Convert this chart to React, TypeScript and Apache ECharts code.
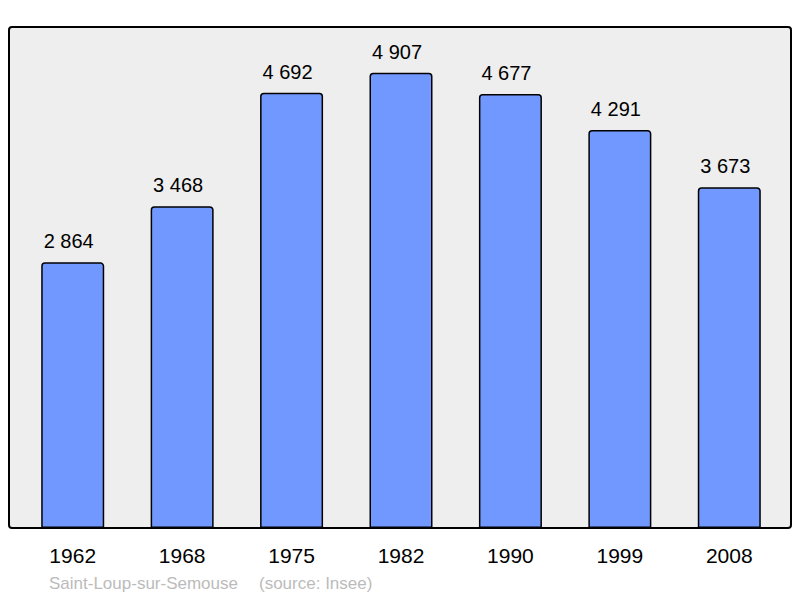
import React, { useEffect, useRef } from "react";
import * as echarts from "echarts";

const years = ["1962", "1968", "1975", "1982", "1990", "1999", "2008"];
const population = [2864, 3468, 4692, 4907, 4677, 4291, 3673];
const townName = "Saint-Loup-sur-Semouse";
const sourceText = "(source: Insee)";

const fmt = (v: number) => {
  const s = String(v);
  return s.replace(/\B(?=(\d{3})+(?!\d))/g, " ");
};

export default function App() {
  const ref = useRef<HTMLDivElement>(null);
  useEffect(() => {
    if (!ref.current) return;
    const chart = echarts.init(ref.current, null, { renderer: "svg" });
    const font = "'Liberation Sans', Arial, sans-serif";
    chart.setOption({
      animation: false,
      backgroundColor: "#ffffff",
      grid: { left: 18, right: 16, top: 27, bottom: 70 },
      xAxis: {
        type: "category",
        data: years,
        axisLine: { show: false },
        axisTick: { show: false },
        axisLabel: { color: "#000", fontSize: 21, fontFamily: font, margin: 17 },
      },
      yAxis: {
        type: "value",
        min: 0,
        max: 5400,
        show: false,
        splitLine: { show: false },
      },
      graphic: [
        {
          type: "rect",
          z: -10,
          shape: { x: 9, y: 27, width: 782, height: 501, r: 3 },
          style: { fill: "#eeeeee", stroke: "#000", lineWidth: 2 },
        },
        {
          type: "text",
          left: 49,
          top: 575,
          style: { text: townName, fill: "#bbbbbb", fontSize: 17, fontFamily: font },
        },
        {
          type: "text",
          left: 259,
          top: 575,
          style: { text: sourceText, fill: "#bbbbbb", fontSize: 17, fontFamily: font },
        },
      ],
      series: [
        {
          type: "bar",
          data: population,
          barWidth: 63,
          itemStyle: {
            color: "#7098ff",
            borderColor: "#000",
            borderWidth: 1.5,
            borderRadius: [3, 3, 0, 0],
          },
          label: {
            show: true,
            position: "top",
            distance: 11,
            offset: [-4, 0],
            color: "#000",
            fontSize: 20,
            fontFamily: font,
            formatter: (p: any) => fmt(p.value),
          },
        },
      ],
    });
    return () => chart.dispose();
  }, []);
  return <div ref={ref} style={{ width: 800, height: 598, position: "absolute", left: 0, top: 0 }} />;
}
